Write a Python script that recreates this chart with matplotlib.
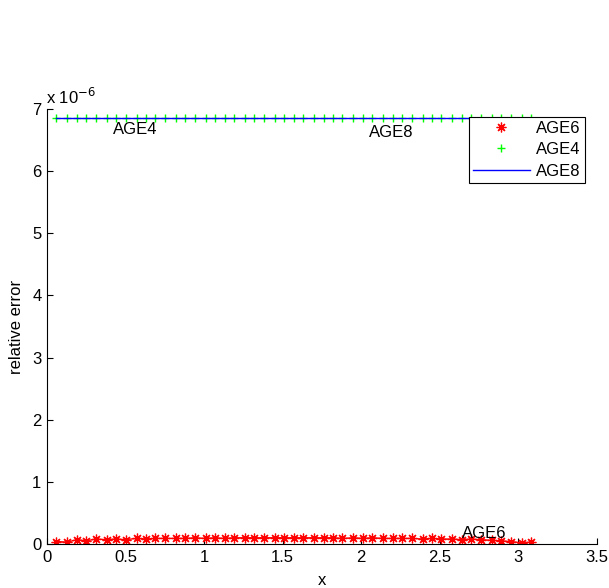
import numpy as np
import matplotlib.pyplot as plt
from matplotlib.ticker import FuncFormatter

plt.rcParams['font.family'] = ['Liberation Sans', 'DejaVu Sans']

# sample points along x
x = [0.06, 0.13, 0.19, 0.25, 0.31, 0.38, 0.44, 0.50, 0.57, 0.63,
     0.69, 0.75, 0.82, 0.88, 0.94, 1.01, 1.07, 1.13, 1.19, 1.26,
     1.32, 1.38, 1.45, 1.51, 1.57, 1.63, 1.70, 1.76, 1.82, 1.88,
     1.95, 2.01, 2.07, 2.14, 2.20, 2.26, 2.32, 2.39, 2.45, 2.51,
     2.58, 2.64, 2.70, 2.76, 2.83, 2.89, 2.95, 3.02, 3.08]

# relative errors, in units of 1e-6
age6 = [0.04, 0.03, 0.07, 0.05, 0.08, 0.07, 0.08, 0.07, 0.09, 0.08,
        0.09, 0.09, 0.09, 0.09, 0.10, 0.09, 0.10, 0.09, 0.10, 0.10,
        0.10, 0.10, 0.10, 0.10, 0.10, 0.10, 0.10, 0.10, 0.10, 0.09,
        0.10, 0.09, 0.10, 0.09, 0.09, 0.09, 0.09, 0.08, 0.09, 0.08,
        0.08, 0.07, 0.08, 0.07, 0.06, 0.05, 0.04, 0.02, 0.03]
age4 = [6.85] * len(x)
age8 = [6.85] * len(x)

scale = 1e-6
asterisk = (8, 2, 0)
fs = 12

fig = plt.figure(figsize=(6.09, 5.88), dpi=100)
ax = fig.add_axes([47 / 609, 44 / 588, 550 / 609, 435 / 588])

ax.plot(x, np.array(age6) * scale, '-', color='red', linewidth=1)
ax.plot(x, np.array(age6) * scale, linestyle='none', marker=asterisk,
        color='red', markersize=7, markeredgewidth=0.9, label='AGE6')
ax.plot(x, np.array(age4) * scale, '+', color=(0, 1, 0), markersize=6,
        markeredgewidth=1, label='AGE4')
ax.plot(x, np.array(age8) * scale, '-', color=(0, 0, 1), linewidth=1, label='AGE8')

ax.text(0.42, 6.67 * scale, 'AGE4', fontsize=fs, va='center')
ax.text(2.05, 6.62 * scale, 'AGE8', fontsize=fs, va='center')
ax.text(2.64, 0.17 * scale, 'AGE6', fontsize=fs, va='center')

ax.set_xlim(0, 3.5)
ax.set_ylim(0, 7 * scale)
ax.set_xticks(np.arange(0, 3.51, 0.5))
ax.set_xticklabels(['0', '0.5', '1', '1.5', '2', '2.5', '3', '3.5'])
ax.set_yticks(np.arange(0, 8) * scale)
ax.yaxis.set_major_formatter(FuncFormatter(lambda v, _: f'{v / scale:g}'))
ax.text(-0.002, 1.004, r'x 10$^{-6}$', transform=ax.transAxes, fontsize=fs,
        ha='left', va='bottom')

ax.spines['top'].set_visible(False)
ax.spines['right'].set_visible(False)
ax.tick_params(direction='in', length=4, labelsize=fs, pad=4)

ax.set_xlabel('x', fontsize=fs, labelpad=6)
ax.set_ylabel('relative error', fontsize=fs, labelpad=6)

leg = ax.legend(loc='upper right', bbox_to_anchor=(0.978, 0.982), borderaxespad=0,
                fontsize=fs, fancybox=False, edgecolor='black', framealpha=1,
                handlelength=3.4, handletextpad=0.4, labelspacing=0.38,
                borderpad=0.25)
leg.get_frame().set_linewidth(0.8)

fig.savefig('out.png', dpi=100)
